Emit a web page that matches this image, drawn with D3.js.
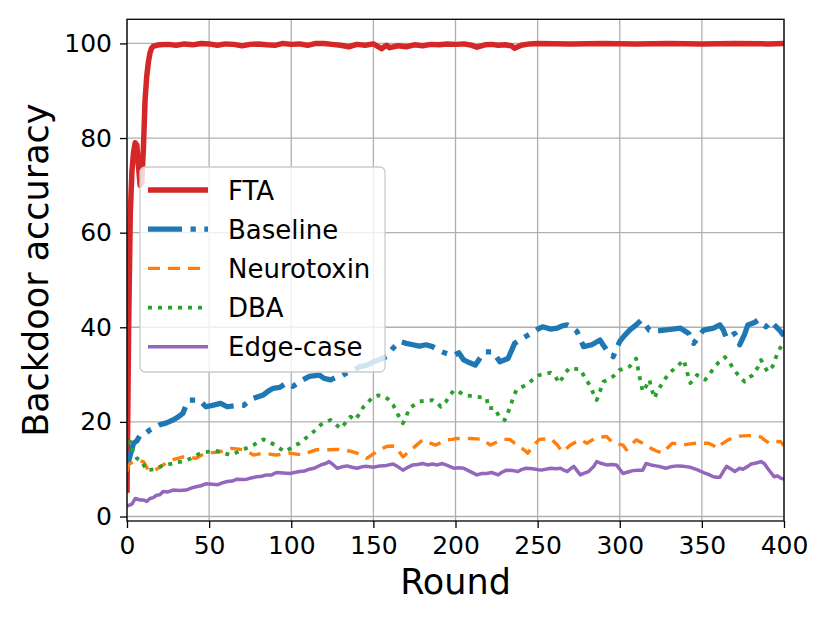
<!DOCTYPE html>
<html>
<head>
<meta charset="utf-8">
<script src="https://cdn.jsdelivr.net/npm/d3@7"></script>
<style>
  body { margin: 0; background: #fff; }
  text { font-family: "DejaVu Sans", sans-serif; fill: #000; }
</style>
</head>
<body>
<script>
// series data: [round, backdoor accuracy]
const fta = [[0,5],[1,40],[2,64],[3,73],[4,77],[5,79],[6,78.5],[7,74],[8,70],[9,70.5],[10,78],[11,88],[12,93],[13,96],[14,98],[15,99],[16,99.4],[18,99.6],[20,99.7],
  [25,99.8],[30,99.6],[35,99.9],[40,99.7],[45,100],[50,99.9],[55,99.6],[60,99.9],[65,99.8],[70,99.5],[75,99.8],[80,99.9],[85,99.7],[90,99.6],[95,100],
  [100,99.8],[105,99.9],[110,99.6],[115,100],[120,100],[125,99.8],[130,99.6],[135,99.3],[140,99.8],[145,99.6],[150,99.9],[155,98.9],[158,99.6],[160,99.1],
  [165,99.5],[170,99.3],[175,99.7],[180,99.5],[185,99.8],[190,99.7],[195,99.9],[200,99.8],[205,99.9],[210,99.6],[213,99.2],[218,99.7],[222,99.8],[226,99.6],
  [230,99.7],[234,99.5],[236,99.0],[240,99.6],[245,99.9],[250,100],[270,99.9],[290,100],[310,99.9],[330,100],[350,99.9],[370,100],[390,99.9],[400,100]];

const baseline = [[0,10.5],[2,13],[4,15.5],[6,16],[8,17.2],[11,17.5],[14,18.3],[17,18.8],[20,19.4],[24,19.8],[28,20.4],[31,21],[34,21.8],[36,23.5],[38,24.6],
  [44,24.6],[48,23.2],[52,23.5],[57,23.9],[61,23.2],[65,23.4],[71,23.5],[74,24.3],[77,25],[83,25.7],[86,26.5],[89,27.1],[93,27.3],[97,28.2],[101,27.5],
  [104,28.2],[107,28.9],[111,29.6],[117,29.9],[120,29.2],[124,28.9],[127,29.4],[130,29.6],[133,30.2],[136,30.6],[142,31.7],[146,32],[150,32.7],[154,33.2],
  [158,33.8],[162,35.6],[166,37],[170,36.6],[174,36.3],[178,36],[182,36.3],[186,35.9],[189,35.3],[192,34.8],[195,34.4],[199,34.1],[202,34.6],[205,33.1],
  [208,32.6],[212,32],[215,33.5],[218,34.8],[223,34.8],[227,32.7],[232,33.4],[236,36.6],[241,37.7],[246,38.7],[250,39.6],[253,40.1],[258,39.6],[262,39.8],
  [265,40.3],[268,40.5],[271,40],[274,39.1],[276,37.5],[278,35.9],[283,36.3],[288,37.3],[290,36.2],[292,35.2],[296,33.8],[298,35.5],[300,37],[303,38.3],
  [306,39.4],[310,40.5],[313,41.5],[315,40.8],[318,39.4],[322,39.2],[327,39.4],[332,39.6],[337,39.8],[342,38.7],[345,36.6],[348,38],[351,39.4],[354,39.6],
  [357,39.8],[361,40.5],[363,39.5],[365,37.7],[368,38.2],[370,38.7],[373,36.3],[376,38.5],[378,40.5],[382,41],[384,41.5],[386,40.8],[389,40.1],[392,41.2],
  [395,40.2],[398,39.1],[400,38.2]];

const neurotoxin = [[0,9.5],[1,11],[4,11.6],[7,11.8],[10,11.6],[13,9.8],[15,9.7],[17,9.8],[20,10.4],[22,10.9],[25,11.5],[28,12],[31,12.3],[34,12.6],[38,12.5],
  [42,12.3],[45,12.9],[48,13.4],[52,13.5],[57,13.7],[60,14.1],[63,14.4],[67,14.3],[71,14.1],[74,13.6],[77,13],[80,13.2],[83,13.4],[87,13.2],[91,13],[95,13.2],
  [99,13.4],[103,13.2],[107,13],[111,13.6],[115,14.1],[120,14.1],[124,14.1],[128,14.2],[132,14.1],[136,13.8],[140,13.4],[143,12.8],[146,12.3],[149,13],
  [152,13.7],[155,14.3],[158,14.8],[161,14.9],[164,14.8],[166,13.6],[168,12.6],[171,13.5],[174,14.4],[177,15.3],[180,16.2],[184,15.6],[188,15.1],[191,15.6],
  [195,16.2],[198,16.3],[201,16.5],[205,16.4],[209,16.5],[213,16.4],[217,16.3],[219,15.7],[221,15.1],[225,15.7],[229,16.3],[233,16.3],[236,15.5],[239,14.8],
  [242,14],[244,13.4],[247,14.8],[251,16.3],[255,16.4],[258,16.5],[260,15.8],[262,15.1],[265,13.7],[268,14.5],[270,15.1],[273,15.7],[276,16.2],[280,15.5],
  [283,16.1],[286,16.7],[289,16.8],[292,16.9],[294,16.2],[296,15.5],[299,15.3],[302,15.1],[304,14.1],[307,15.2],[310,16.2],[314,15.5],[317,14.9],[319,14.4],
  [322,13.9],[326,13.4],[329,14.5],[332,15.5],[335,15.3],[338,15.1],[342,15.3],[347,15.5],[350,15.5],[354,15.5],[357,15],[359,14.4],[362,15.3],[366,16.2],
  [370,16.7],[373,17],[378,17.1],[383,17.1],[386,16.8],[388,16.2],[391,15.5],[394,15.9],[398,15.8],[400,15]];

const dba = [[0,15.5],[2,15.8],[4,13.4],[6,12.3],[9,11.6],[12,9.8],[15,9.9],[17,10],[20,10.5],[22,10.9],[25,11],[28,11.2],[31,11.5],[34,11.6],[37,12],[39,12.3],
  [42,12.9],[45,13.4],[50,13.7],[54,13.9],[57,13.7],[60,13.3],[63,13],[67,13.6],[70,14.1],[74,14.6],[77,15.1],[80,15.8],[83,16.3],[86,15.9],[90,15.1],[93,14.4],
  [96,13.7],[99,14.3],[101,14.8],[105,15.5],[108,16.3],[111,17.2],[115,18.3],[118,19.4],[121,20],[124,20.4],[127,19.5],[130,18.6],[133,19.8],[136,21.1],
  [139,20.4],[142,22],[144,23.2],[147,24.3],[150,25.3],[153,25.6],[156,25.5],[159,24.8],[162,23.6],[165,21.5],[168,19.7],[170,21.2],[172,22.9],[175,23.6],
  [178,24.3],[182,24.5],[186,24.6],[189,24],[191,23.2],[194,24.2],[196,25.3],[199,26.7],[202,26.4],[205,25.7],[209,25.5],[213,25.3],[216,25.2],[219,25],
  [220,22.9],[224,22.9],[227,20.8],[230,20.4],[233,22.9],[235,25],[237,26.7],[240,27.3],[243,27.8],[247,28.9],[251,29.9],[255,30.2],[258,30.4],[261,29.5],
  [263,28.2],[266,29.8],[269,31.3],[273,31.2],[276,31.1],[279,29.2],[282,27.6],[284,26],[286,24.6],[288,26.5],[290,28.5],[293,29],[296,29.6],[300,31],
  [303,31.3],[306,31.7],[308,32.5],[310,33.4],[312,29.6],[314,26.4],[316,27.5],[318,28.9],[321,25],[324,27.1],[327,28.8],[330,30.3],[334,31.4],[337,32.4],
  [339,33.1],[341,30.5],[343,28.2],[345,29],[347,29.9],[350,29.4],[352,28.9],[355,30.2],[357,31.3],[360,32.5],[364,33.7],[367,32.5],[369,31.3],[371,30.4],
  [373,29.6],[376,28.5],[378,29.2],[381,29.9],[384,31.5],[386,33.1],[388,31.8],[390,30.6],[393,31.7],[396,34.5],[398,35.8],[400,37]];

const edgeCase = [[0,2.2],[3,2.6],[5,3.8],[8,3.5],[10,3.5],[12,3.2],[14,3.8],[16,4],[18,4.5],[20,4.6],[22,5.3],[25,5.2],[28,5.6],[32,5.5],[36,5.6],[39,6],
  [42,6.3],[45,6.5],[48,6.9],[52,6.8],[55,6.7],[58,7.1],[61,7.4],[64,7.5],[67,7.9],[70,7.8],[73,7.9],[76,8.2],[79,8.4],[82,8.5],[85,8.8],[88,8.8],[91,9.3],
  [95,9.2],[99,9.1],[102,9.3],[105,9.5],[108,9.6],[111,10],[114,10.2],[118,10.9],[121,11.2],[123,11.6],[125,11.1],[128,10.2],[131,10.5],[134,10.7],[137,10.4],
  [140,10.2],[143,10.5],[146,10.6],[150,10.4],[154,10.7],[158,10.8],[162,11.1],[165,10.5],[168,9.8],[171,10.4],[174,10.9],[177,11],[180,11.2],[183,10.9],
  [186,11.1],[189,10.9],[192,11.2],[195,10.8],[199,10.2],[202,10.3],[205,10.2],[209,9.5],[213,8.8],[216,9.1],[219,9.1],[222,9.3],[226,8.8],[228,9.3],[231,9.8],
  [235,9.7],[238,9.5],[240,9.9],[243,10.2],[247,10.1],[252,9.8],[255,10],[258,10.2],[261,10.1],[264,10.2],[266,9.8],[268,9.5],[270,10.1],[272,10.6],[274,9.7],
  [276,8.8],[278,9.1],[281,9.5],[284,10.5],[286,11.6],[289,11.2],[292,10.9],[295,11],[298,10.9],[300,10],[302,9.1],[305,9.4],[308,9.7],[311,9.8],[314,9.8],
  [316,11.2],[319,10.9],[322,10.7],[325,10.5],[328,10.2],[331,10.5],[335,10.7],[339,10.6],[343,10.4],[347,9.9],[351,9.3],[354,8.9],[357,8.4],[359,8.3],
  [361,8.3],[363,9.5],[365,10.6],[368,10],[370,9.5],[373,10.2],[375,10],[378,10.6],[380,11.1],[383,11.3],[386,11.6],[388,11.2],[390,10.2],[392,9.3],[394,8.4],
  [396,8.6],[398,8.1],[400,7.9]];

const seriesNames = ["FTA", "Baseline", "Neurotoxin", "DBA", "Edge-case"];
const seriesData = [fta, baseline, neurotoxin, dba, edgeCase];
const seriesColors = ["#d62728", "#1f77b4", "#ff7f0e", "#2ca02c", "#9467bd"];
const seriesWidths = [5.5, 5.3, 3.4, 3.8, 3.5];
const seriesDash = [null, "34,8.5,5.3,8.5", "12,8", "4,6", null];

const xTicks = [0, 50, 100, 150, 200, 250, 300, 350, 400];
const yTicks = [0, 20, 40, 60, 80, 100];

const W = 830, H = 623;
const plot = { left: 127, right: 784, top: 19.3, bottom: 521 };

const svg = d3.select("body").append("svg")
  .attr("width", W).attr("height", H);

const x = d3.scaleLinear().domain([0, 400]).range([plot.left, plot.right]);
const y = d3.scaleLinear().domain([-0.95, 105.1]).range([plot.bottom, plot.top]);

svg.append("defs").append("clipPath").attr("id", "plot")
  .append("rect").attr("x", plot.left).attr("y", plot.top)
  .attr("width", plot.right - plot.left).attr("height", plot.bottom - plot.top);

// grid
const grid = svg.append("g").attr("stroke", "#b0b0b0").attr("stroke-width", 1.3);
xTicks.forEach(t => grid.append("line").attr("x1", x(t)).attr("x2", x(t)).attr("y1", plot.top).attr("y2", plot.bottom));
yTicks.forEach(t => grid.append("line").attr("x1", plot.left).attr("x2", plot.right).attr("y1", y(t)).attr("y2", y(t)));

// lines
const line = d3.line().x(d => x(d[0])).y(d => y(d[1]));
const lines = svg.append("g").attr("clip-path", "url(#plot)");
seriesData.forEach((data, i) => {
  lines.append("path")
    .attr("d", line(data))
    .attr("fill", "none")
    .attr("stroke", seriesColors[i])
    .attr("stroke-width", seriesWidths[i])
    .attr("stroke-linejoin", "round")
    .attr("stroke-dasharray", seriesDash[i]);
});

// axes
const xAxis = svg.append("g").attr("transform", "translate(0," + plot.bottom + ")")
  .call(d3.axisBottom(x).tickValues(xTicks).tickSize(7).tickPadding(8).tickSizeOuter(0));
const yAxis = svg.append("g").attr("transform", "translate(" + plot.left + ",0)")
  .call(d3.axisLeft(y).tickValues(yTicks).tickSize(7).tickPadding(8).tickSizeOuter(0));
[xAxis, yAxis].forEach(a => {
  a.select(".domain").remove();
  a.selectAll("line").attr("stroke", "#000").attr("stroke-width", 1.3);
  a.selectAll("text").style("font-family", "DejaVu Sans").style("font-size", "25px").attr("fill", "#000");
});

// frame
svg.append("rect").attr("x", plot.left).attr("y", plot.top)
  .attr("width", plot.right - plot.left).attr("height", plot.bottom - plot.top)
  .attr("fill", "none").attr("stroke", "#000").attr("stroke-width", 1.3);

// axis labels
svg.append("text").attr("x", (plot.left + plot.right) / 2).attr("y", 594)
  .attr("text-anchor", "middle").style("font-size", "35px").text("Round");
svg.append("text")
  .attr("transform", "translate(48," + (plot.top + plot.bottom) / 2 + ") rotate(-90)")
  .attr("text-anchor", "middle").style("font-size", "35px").text("Backdoor accuracy");

// legend
const lg = svg.append("g");
lg.append("rect").attr("x", 140).attr("y", 167).attr("width", 245).attr("height", 205)
  .attr("rx", 5).attr("fill", "#fff").attr("fill-opacity", 0.8)
  .attr("stroke", "#cccccc").attr("stroke-width", 1.3);
seriesNames.forEach((name, i) => {
  const cy = 190 + i * 39.2;
  lg.append("line").attr("x1", 148).attr("x2", 208).attr("y1", cy).attr("y2", cy)
    .attr("stroke", seriesColors[i]).attr("stroke-width", seriesWidths[i])
    .attr("stroke-dasharray", seriesDash[i]);
  lg.append("text").attr("x", 228).attr("y", cy + 9.5)
    .style("font-size", "26px").text(name);
});
</script>
</body>
</html>
